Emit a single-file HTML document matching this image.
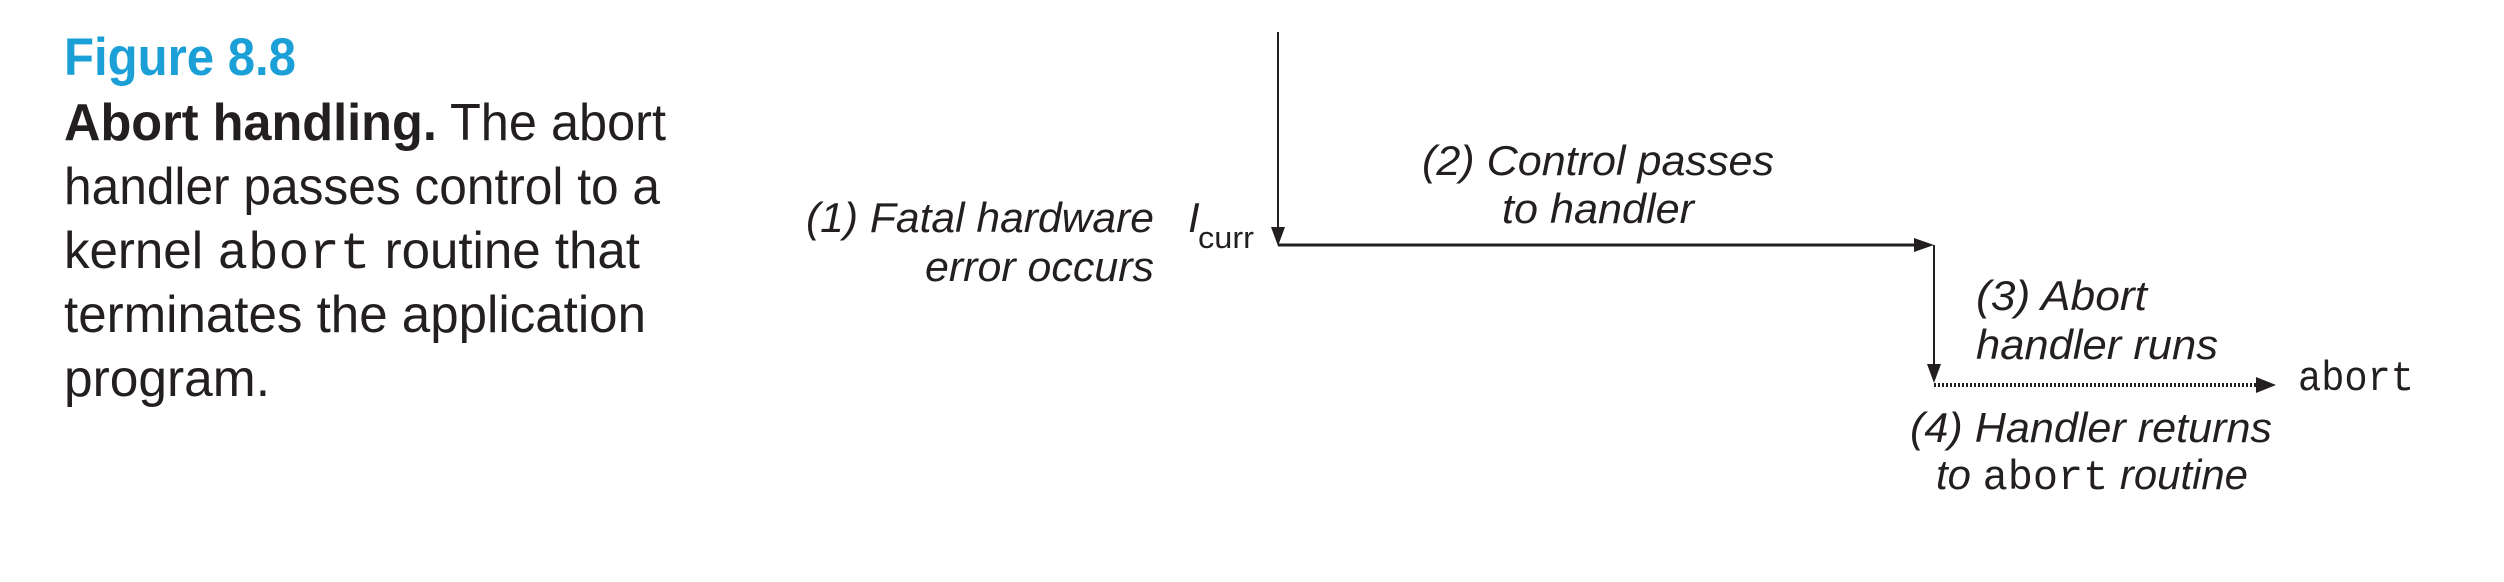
<!DOCTYPE html>
<html><head><meta charset="utf-8"><style>
html,body{margin:0;padding:0;background:#fff;}
svg{display:block;}
text{font-family:"Liberation Sans",sans-serif;fill:#231f20;}
.it{font-style:italic;font-size:42px;}
.mono{font-family:"Liberation Mono",monospace;}
</style></head><body>
<svg width="2504" height="582" viewBox="0 0 2504 582" xmlns="http://www.w3.org/2000/svg">
<text x="64" y="75" font-size="53" font-weight="bold" style="fill:#1a9fd6" textLength="232" lengthAdjust="spacingAndGlyphs">Figure 8.8</text>
<text x="64" y="140" font-size="52" textLength="602" lengthAdjust="spacingAndGlyphs"><tspan font-weight="bold">Abort handling.</tspan> The abort</text>
<text x="64" y="204" font-size="52" textLength="596" lengthAdjust="spacingAndGlyphs">handler passes control to a</text>
<text x="64" y="268" font-size="52" textLength="576" lengthAdjust="spacingAndGlyphs">kernel <tspan class="mono">abort</tspan> routine that</text>
<text x="64" y="332" font-size="52" textLength="582" lengthAdjust="spacingAndGlyphs">terminates the application</text>
<text x="64" y="396" font-size="52" textLength="206" lengthAdjust="spacingAndGlyphs">program.</text>

<text class="it" x="806" y="232" textLength="348" lengthAdjust="spacingAndGlyphs">(1) Fatal hardware</text>
<text class="it" x="925" y="281" textLength="229" lengthAdjust="spacingAndGlyphs">error occurs</text>
<text class="it" x="1188" y="232">I</text>
<text x="1198" y="248" font-size="31" textLength="56" lengthAdjust="spacingAndGlyphs">curr</text>

<text class="it" x="1422" y="175" textLength="352" lengthAdjust="spacingAndGlyphs">(2) Control passes</text>
<text class="it" x="1502" y="223" textLength="192" lengthAdjust="spacingAndGlyphs">to handler</text>
<text class="it" x="1976" y="310" textLength="171" lengthAdjust="spacingAndGlyphs">(3) Abort</text>
<text class="it" x="1976" y="359" textLength="242" lengthAdjust="spacingAndGlyphs">handler runs</text>
<text class="it" x="1910" y="442" textLength="362" lengthAdjust="spacingAndGlyphs">(4) Handler returns</text>
<text class="it" x="1936" y="489" textLength="312" lengthAdjust="spacingAndGlyphs">to <tspan class="mono" font-style="normal">abort</tspan> routine</text>
<text class="mono" x="2298" y="390" font-size="42" textLength="116" lengthAdjust="spacingAndGlyphs">abort</text>

<g stroke="#231f20" fill="none">
<line x1="1278" y1="32" x2="1278" y2="230" stroke-width="2"/>
<line x1="1278" y1="245" x2="1916" y2="245" stroke-width="3"/>
<line x1="1934" y1="245" x2="1934" y2="366" stroke-width="2"/>
<line x1="1934" y1="385" x2="2258" y2="385" stroke-width="4" stroke-dasharray="2,2"/>
</g>
<g fill="#231f20">
<polygon points="1271,227 1285,227 1278,246"/>
<polygon points="1914,238 1914,252 1934,245"/>
<polygon points="1927,364 1941,364 1934,383"/>
<polygon points="2256,377 2256,393 2276,385"/>
</g>
</svg>
</body></html>
